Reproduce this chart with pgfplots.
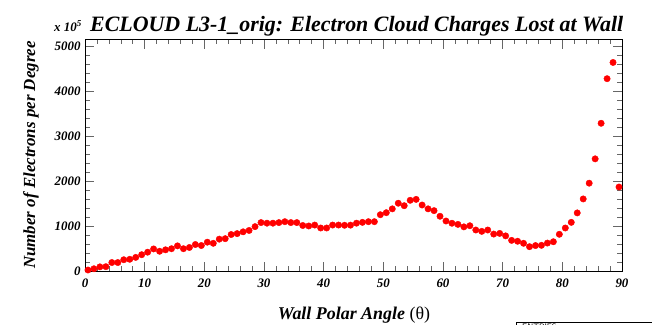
\documentclass[border=0pt]{standalone}
\usepackage{fontspec}
\setmainfont{Liberation Serif}
\usepackage{pgfplots}
\pgfplotsset{compat=1.18}
\usepackage{pgfplotstable}
\pgfplotstableread{
x y
0.5 22
1.5 50
2.5 92
3.5 96
4.5 188
5.5 188
6.5 250
7.5 260
8.5 302
9.5 362
10.5 418
11.5 490
12.5 438
13.5 470
14.5 495
15.5 558
16.5 495
17.5 522
18.5 588
19.5 566
20.5 640
21.5 615
22.5 707
23.5 718
24.5 810
25.5 830
26.5 870
27.5 900
28.5 985
29.5 1075
30.5 1062
31.5 1062
32.5 1075
33.5 1095
34.5 1075
35.5 1075
36.5 1010
37.5 1000
38.5 1020
39.5 955
40.5 955
41.5 1020
42.5 1020
43.5 1015
44.5 1018
45.5 1062
46.5 1080
47.5 1095
48.5 1095
49.5 1250
50.5 1295
51.5 1380
52.5 1505
53.5 1450
54.5 1570
55.5 1590
56.5 1465
57.5 1380
58.5 1340
59.5 1215
60.5 1110
61.5 1060
62.5 1035
63.5 980
64.5 1005
65.5 910
66.5 880
67.5 910
68.5 820
69.5 835
70.5 780
71.5 680
72.5 660
73.5 615
74.5 540
75.5 565
76.5 570
77.5 620
78.5 650
79.5 815
80.5 955
81.5 1080
82.5 1290
83.5 1600
84.5 1950
85.5 2490
86.5 3280
87.5 4270
88.5 4630
89.5 1865
}\datatable
\begin{document}
\begin{tikzpicture}
\useasboundingbox (0,0) rectangle (652bp,325bp);
\begin{axis}[
  at={(85bp,54bp)}, anchor=south west,
  scale only axis, width=537bp, height=231.5bp,
  xmin=0, xmax=90, ymin=0, ymax=5140,
  xtick={0,10,...,90}, ytick={0,1000,...,5000},
  minor x tick num=4, minor y tick num=4,
  xtick pos=both, ytick pos=both,
  xticklabel pos=lower, yticklabel pos=left,
  tick align=inside,
  major tick length=9bp, minor tick length=4.5bp,
  every tick/.style={gray!80!black, line width=0.6pt},
  axis line style={black, line width=0.9pt},
  /pgf/number format/assume math mode=true,
  /pgf/number format/1000 sep={},
  tick label style={font=\fontsize{13}{15}\selectfont\bfseries\itshape},
  xticklabel style={yshift=-4bp},
  yticklabel style={xshift=-1bp},
  clip=false,
]
\addplot[only marks, mark=*, mark size=3.2bp, color=red, mark options={fill=red, draw=red}] table[x=x,y=y] {\datatable};
\end{axis}
\node[anchor=base west, font=\fontsize{13}{15}\selectfont\bfseries\itshape, inner sep=0] at (54bp,293bp) {x 10\raisebox{5bp}{\fontsize{9}{10}\selectfont 5}};
\node[anchor=base west, font=\fontsize{22}{26}\selectfont\bfseries\itshape, inner sep=0] at (90bp,293bp) {ECLOUD L3-1\_orig: Electron Cloud Charges Lost at Wall};
\node[anchor=base, font=\fontsize{18}{21}\selectfont\bfseries\itshape, inner sep=0] at (354bp,6bp) {Wall Polar Angle {\normalfont(θ)}};
\node[anchor=base, rotate=90, font=\fontsize{17}{20}\selectfont\bfseries\itshape, inner sep=0] at (35bp,170bp) {Number of Electrons per Degree};
\draw[line width=0.6pt] (516bp,-20bp) -- (516bp,3bp) -- (660bp,3bp);
\node[anchor=north west, font=\fontsize{8}{9}\selectfont\sffamily, inner sep=0] at (522bp,1.5bp) {ENTRIES};
\end{tikzpicture}
\end{document}
